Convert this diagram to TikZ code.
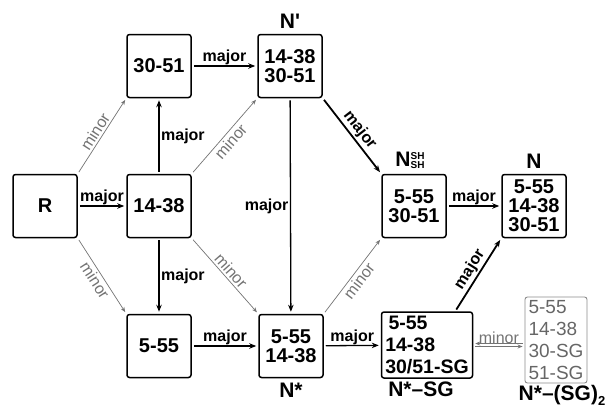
\documentclass[tikz,border=0pt]{standalone}
\usepackage{fontspec}
\setmainfont{Liberation Sans}
\usetikzlibrary{arrows.meta,positioning,quotes}

\begin{document}
\begin{tikzpicture}[x=1pt,y=-1pt]
\tikzset{
  statebox/.style={rectangle,rounded corners=2.5pt,draw=black,line width=1.5pt,minimum width=64pt,minimum height=63pt,inner sep=1pt,align=center,font=\fontsize{20}{19}\selectfont\bfseries},
  greybox/.style={rectangle,rounded corners=2.5pt,draw=black!45,line width=0.9pt,minimum width=62pt,minimum height=86pt,inner sep=2pt,align=left,text=black!60,font=\fontsize{19}{22}\selectfont},
  statename/.style={inner sep=0pt,font=\fontsize{21}{21}\selectfont\bfseries},
  majoredge/.style={draw=black,line width=1.3pt,-{Stealth[length=7pt,width=5.5pt]},shorten <=2pt,shorten >=2pt},
  thickedge/.style={majoredge,line width=1.8pt},
  minoredge/.style={draw=black!55,line width=0.7pt,-{Stealth[length=5pt,width=4pt]},shorten <=2pt,shorten >=2pt},
  majorlab/.style={font=\fontsize{16}{16}\selectfont\bfseries,inner sep=1.5pt},
  minorlab/.style={font=\fontsize{16}{16}\selectfont,text=black!55,inner sep=2pt}
}
\useasboundingbox (0,0) rectangle (616,408);
\node[statebox] (n_R) at (45,206) {R};
\node[statebox] (n_3051) at (159,66) {30-51};
\node[statebox] (n_1438) at (159,206) {14-38};
\node[statebox] (n_555) at (159,346) {5-55};
\node[statebox] (n_Np) at (290,66) {14-38\\30-51};
\node[statebox] (n_Ns) at (291,346) {5-55\\14-38};
\node[statebox] (n_Nsh) at (414,206) {5-55\\30-51};
\node[statebox] (n_N) at (534,206) {5-55\\14-38\\30-51};
\node[statebox,minimum width=91pt,minimum height=66pt,align=left,font=\fontsize{19.5}{22}\selectfont\bfseries] (n_Nsg) at (427,345) {\,5-55\\14-38\\30/51-SG};
\node[greybox] (n_Nsg2) at (556,340) {5-55\\14-38\\30-SG\\51-SG};
\node[statename,above=5pt of n_Np] (t_Np) {N\textquotesingle};
\node[statename,below=5pt of n_Ns] (t_Ns) {N*};
\node[statename,above=5pt of n_Nsh,xshift=-4pt] (t_Nsh) {N\makebox[0pt][l]{\raisebox{7pt}{\fontsize{10}{10}\selectfont SH}}\raisebox{-2pt}{\fontsize{10}{10}\selectfont SH}};
\node[statename,above=5pt of n_N] (t_N) {N};
\node[statename,below=3pt of n_Nsg,xshift=-6pt] (t_Nsg) {N*–SG};
\node[statename,below=2pt of n_Nsg2,xshift=6pt] (t_Nsg2) {N*–(SG)\raisebox{-5pt}{\fontsize{13}{13}\selectfont 2}};
% major steps
\draw[majoredge] (n_R) to node[majorlab,above=-1pt] {major} (n_1438);
\draw[majoredge] (n_1438) to node[majorlab,right] {major} (n_3051);
\draw[majoredge] (n_1438) to node[majorlab,right] {major} (n_555);
\draw[majoredge] (n_3051) to node[majorlab,above=-1pt] {major} (n_Np);
\draw[majoredge] (n_555) to node[majorlab,above=-1pt] {major} (n_Ns);
\draw[majoredge] (n_Np) to node[majorlab,left,pos=0.5] {major} (n_Ns);
\draw[majoredge] (n_Nsh) to node[majorlab,above=-1pt] {major} (n_N);
\draw[majoredge] (n_Ns) to node[majorlab,above=-1pt] {major} (n_Nsg);
\draw[thickedge] (n_Np.south east) to node[majorlab,sloped,above] {major} (n_Nsh.north west);
\draw[thickedge] ([xshift=-18pt]n_Nsg.north east) to node[majorlab,sloped,above] {major} (n_N.south west);
% minor steps
\draw[minoredge] (n_R.north east) to node[minorlab,sloped,above] {minor} (n_3051.south west);
\draw[minoredge] (n_R.south east) to node[minorlab,sloped,below] {minor} (n_555.north west);
\draw[minoredge] (n_1438.north east) to node[minorlab,sloped,below] {minor} (n_Np.south west);
\draw[minoredge] (n_1438.south east) to node[minorlab,sloped,above] {minor} (n_Ns.north west);
\draw[minoredge] (n_Ns.north east) to node[minorlab,sloped,below] {minor} (n_Nsh.south west);
\draw[minoredge] ([yshift=-1.5pt]n_Nsg.east) to node[minorlab,above=1pt] {minor} ([yshift=-1.5pt]n_Nsg2.west |- n_Nsg.east);
\draw[minoredge] ([yshift=1.5pt]n_Nsg2.west |- n_Nsg.east) to ([yshift=1.5pt]n_Nsg.east);
\end{tikzpicture}
\end{document}
